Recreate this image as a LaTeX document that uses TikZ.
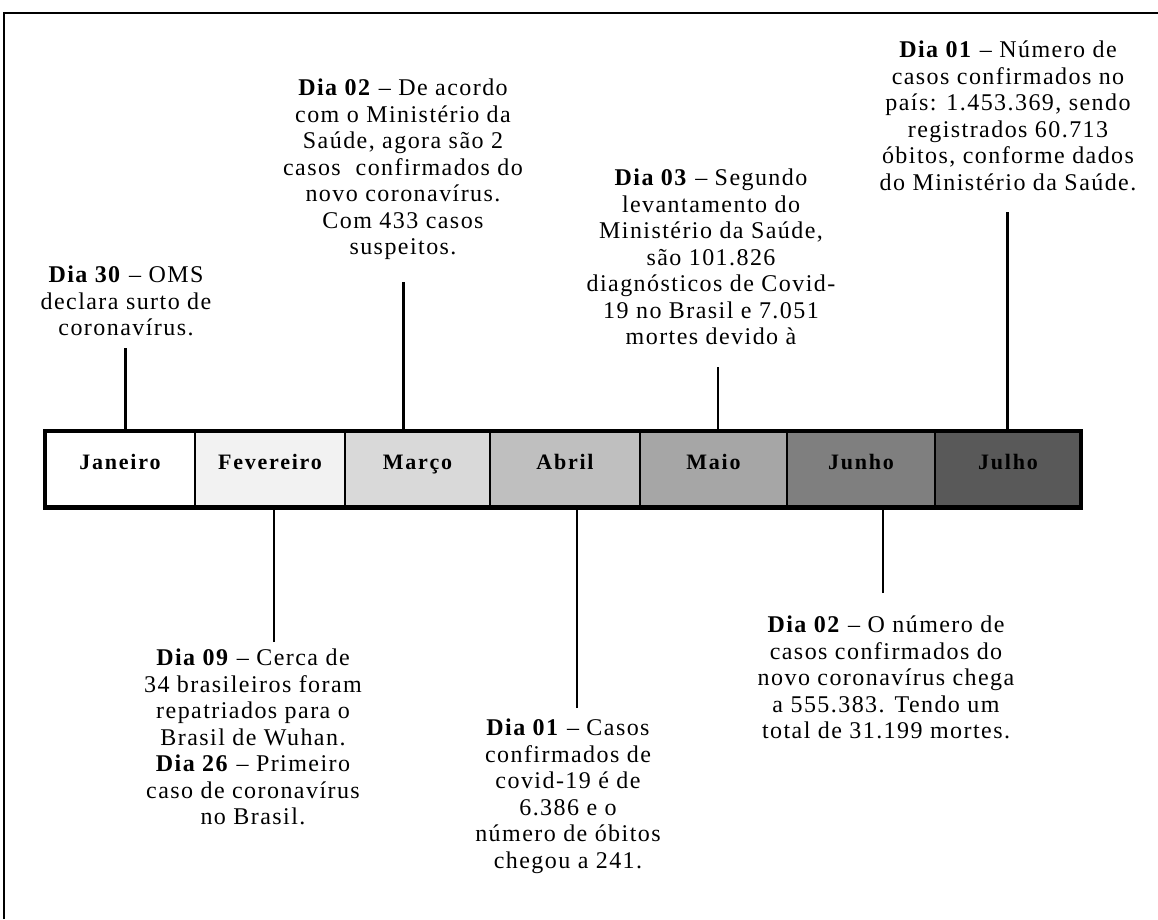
\documentclass[tikz,border=0pt]{standalone}
\usepackage{fontspec}
\setmainfont{Liberation Serif}
\newfontfamily\bodyfont{Liberation Serif}[LetterSpace=6]
\newfontfamily\monthfont{Liberation Serif}[LetterSpace=8]
\definecolor{mFev}{HTML}{F2F2F2}
\definecolor{mMar}{HTML}{D9D9D9}
\definecolor{mAbr}{HTML}{BFBFBF}
\definecolor{mMai}{HTML}{A6A6A6}
\definecolor{mJun}{HTML}{7F7F7F}
\definecolor{mJul}{HTML}{595959}
\tikzset{
  evt/.style={align=center, inner sep=0pt, anchor=north,
    font=\bodyfont\fontsize{24}{26.5}\selectfont},
  monthbox/.style={draw=black, line width=2.5pt, minimum height=76.5pt,
    inner sep=0pt, outer sep=0pt, text height=10pt, text depth=10pt,
    font=\monthfont\bfseries\fontsize{22}{24}\selectfont},
  connthick/.style={line width=3pt},
  connthin/.style={line width=2.2pt}
}
\begin{document}
\begin{tikzpicture}[x=1pt,y=-1pt]
\useasboundingbox (0,0) rectangle (1158,919);
% outer frame (partly outside the picture)
\draw[line width=2pt] (4,919) -- (4,13) -- (1158,13);

% month bar
\node[monthbox, fill=white, minimum width=150pt] (jan) at (120,469.25) {Janeiro};
\node[monthbox, fill=mFev,  minimum width=150pt] (fev) at (270,469.25) {Fevereiro};
\node[monthbox, fill=mMar,  minimum width=145pt] (mar) at (417.5,469.25) {Março};
\node[monthbox, fill=mAbr,  minimum width=150pt] (abr) at (565,469.25) {Abril};
\node[monthbox, fill=mMai,  minimum width=147pt] (mai) at (713.5,469.25) {Maio};
\node[monthbox, fill=mJun,  minimum width=148pt] (jun) at (861,469.25) {Junho};
\node[monthbox, fill=mJul,  minimum width=146pt] (jul) at (1008,469.25) {Julho};
\draw[line width=3.5pt] (jan.north west) rectangle (jul.south east);
\draw[line width=5pt] ([xshift=-1.75pt]jan.south west) -- ([xshift=1.75pt]jul.south east);

% event texts
\node[evt] (tjan) at (126,266) {\textbf{Dia 30} \textendash{} OMS\\declara surto de\\coronavírus.};
\node[evt] (tmar) at (403,79) {\textbf{Dia 02} \textendash{} De acordo\\com o Ministério da\\Saúde, agora são 2\\casos\ \ confirmados do\\novo coronavírus.\\Com 433 casos\\suspeitos.};
\node[evt] (tmai) at (711,169) {\textbf{Dia 03} \textendash{} Segundo\\levantamento do\\Ministério da Saúde,\\são 101.826\\diagnósticos de Covid-\\19 no Brasil e 7.051\\mortes devido à};
\node[evt] (tjul) at (1008,41) {\textbf{Dia 01} \textendash{} Número de\\casos confirmados no\\país: 1.453.369, sendo\\registrados 60.713\\óbitos, conforme dados\\do Ministério da Saúde.};
\node[evt] (tfev) at (253,649) {\textbf{Dia 09} \textendash{} Cerca de\\34 brasileiros foram\\repatriados para o\\Brasil de Wuhan.\\\textbf{Dia 26} \textendash{} Primeiro\\caso de coronavírus\\no Brasil.};
\node[evt] (tabr) at (568,719) {\textbf{Dia 01} \textendash{} Casos\\confirmados de\\covid-19 é de\\6.386 e o\\número de óbitos\\chegou a 241.};
\node[evt] (tjun) at (886,616) {\textbf{Dia 02} \textendash{} O número de\\casos confirmados do\\novo coronavírus chega\\a 555.383. Tendo um\\total de 31.199 mortes.};

% connector end points
\coordinate (cjan) at (125,348);
\coordinate (cmar) at (403,282);
\coordinate (cmai) at (718,367);
\coordinate (cjul) at (1007,212);
\coordinate (cfev) at (274,642);
\coordinate (cabr) at (577,708);
\coordinate (cjun) at (883,593);

% connectors
\draw[connthick] (cjan) -- (cjan |- jan.north);
\draw[connthick] (cmar) -- (cmar |- mar.north);
\draw[connthin]  (cmai) -- (cmai |- mai.north);
\draw[connthick] (cjul) -- (cjul |- jul.north);
\draw[connthin]  (cfev) -- (cfev |- fev.south);
\draw[connthin]  (cabr) -- (cabr |- abr.south);
\draw[connthin]  (cjun) -- (cjun |- jun.south);
\end{tikzpicture}
\end{document}
